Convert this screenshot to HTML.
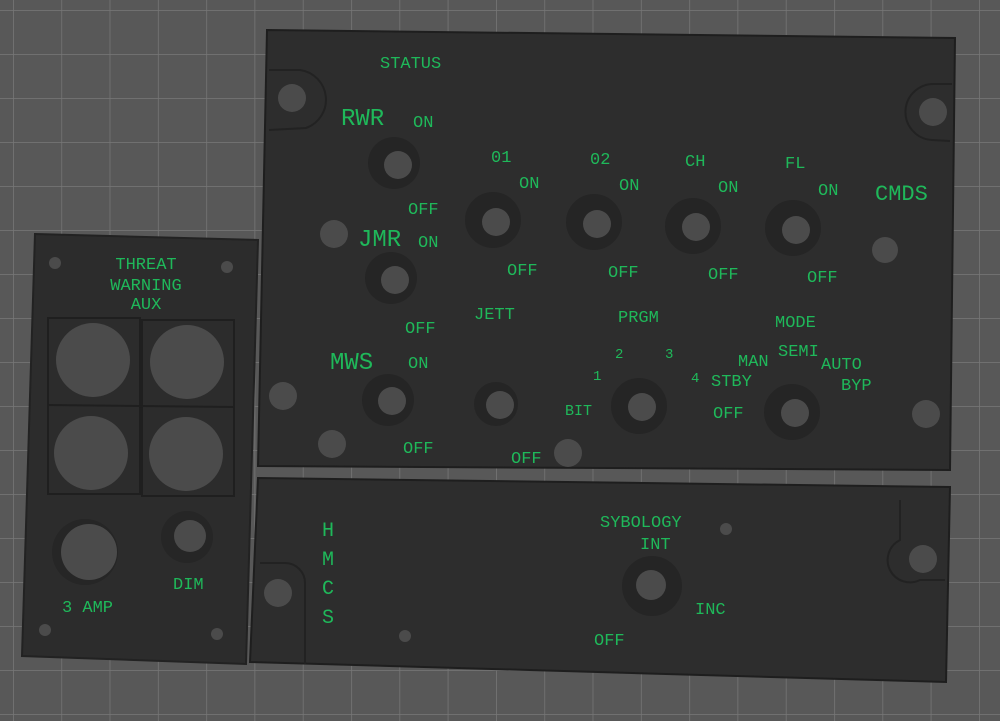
<!DOCTYPE html>
<html><head><style>
html,body{margin:0;padding:0;background:#595959;}
svg{display:block}
text{font-family:"Liberation Mono","DejaVu Sans Mono",monospace;fill:#1fb85a;}
</style></head><body>
<svg width="1000" height="721" viewBox="0 0 1000 721" xmlns="http://www.w3.org/2000/svg">
<defs>
<pattern id="g" width="48.3" height="44" patternUnits="userSpaceOnUse" x="13" y="10">
<rect width="48.3" height="44" fill="#585858"/>
<path d="M0 0V44M0 0H48.3" stroke="#777" stroke-width="1.5"/>
</pattern>
</defs>
<rect width="1000" height="721" fill="url(#g)"/>

<!-- left panel -->
<polygon points="35,234 258,240 246,664 22,656" fill="#2c2c2c" stroke="#222" stroke-width="2"/>
<rect x="48" y="318" width="92" height="176" fill="none" stroke="#1f1f1f" stroke-width="2"/>
<rect x="142" y="320" width="92" height="176" fill="none" stroke="#1f1f1f" stroke-width="2"/>
<line x1="48" y1="405" x2="234" y2="407" stroke="#1f1f1f" stroke-width="2"/>
<g fill="#4b4b4b">
<circle cx="93" cy="360" r="37"/><circle cx="187" cy="362" r="37"/>
<circle cx="91" cy="453" r="37"/><circle cx="186" cy="454" r="37"/>
<circle cx="55" cy="263" r="6"/><circle cx="227" cy="267" r="6"/>
<circle cx="45" cy="630" r="6"/><circle cx="217" cy="634" r="6"/>
</g>
<circle cx="85" cy="552" r="33" fill="#262626"/><circle cx="89" cy="552" r="28" fill="#4b4b4b"/>
<circle cx="187" cy="537" r="26" fill="#262626"/><circle cx="190" cy="536" r="16" fill="#4b4b4b"/>
<text x="146" y="269" font-size="17" text-anchor="middle">THREAT</text>
<text x="146" y="290" font-size="17" text-anchor="middle">WARNING</text>
<text x="146" y="309" font-size="17" text-anchor="middle">AUX</text>
<text x="62" y="612" font-size="17">3 AMP</text>
<text x="173" y="589" font-size="17">DIM</text>

<!-- main panel -->
<polygon points="267,30 955,38 950,470 258,466" fill="#2d2d2d" stroke="#1e1e1e" stroke-width="2"/>
<path d="M269,70 H300 A30 30 0 0 1 306,128 L269,130" fill="none" stroke="#222" stroke-width="2"/>
<path d="M952,84 H935 A28 28 0 0 0 932,140 L950,141" fill="none" stroke="#222" stroke-width="2"/>

<!-- HMCS panel -->
<polygon points="258,478 950,487 946,682 250,662" fill="#2d2d2d" stroke="#1e1e1e" stroke-width="2"/>
<path d="M260,563 H285 A20 20 0 0 1 305,583 V664" fill="none" stroke="#222" stroke-width="2"/>
<path d="M900,500 V540 A20 20 0 0 0 920,580 H945" fill="none" stroke="#222" stroke-width="2"/>

<g fill="#4b4b4b">
<circle cx="292" cy="98" r="14"/><circle cx="933" cy="112" r="14"/>
<circle cx="334" cy="234" r="14"/><circle cx="885" cy="250" r="13"/>
<circle cx="283" cy="396" r="14"/><circle cx="926" cy="414" r="14"/>
<circle cx="332" cy="444" r="14"/><circle cx="568" cy="453" r="14"/>
<circle cx="278" cy="593" r="14"/><circle cx="923" cy="559" r="14"/>
<circle cx="405" cy="636" r="6"/><circle cx="726" cy="529" r="6"/>
</g>
<g fill="#252525">
<circle cx="394" cy="163" r="26"/><circle cx="391" cy="278" r="26"/><circle cx="388" cy="400" r="26"/>
<circle cx="493" cy="220" r="28"/><circle cx="594" cy="222" r="28"/><circle cx="693" cy="226" r="28"/><circle cx="793" cy="228" r="28"/>
<circle cx="496" cy="404" r="22"/><circle cx="639" cy="406" r="28"/><circle cx="792" cy="412" r="28"/>
<circle cx="652" cy="586" r="30"/>
</g>
<g fill="#4b4b4b">
<circle cx="398" cy="165" r="14"/><circle cx="395" cy="280" r="14"/><circle cx="392" cy="401" r="14"/>
<circle cx="496" cy="222" r="14"/><circle cx="597" cy="224" r="14"/><circle cx="696" cy="227" r="14"/><circle cx="796" cy="230" r="14"/>
<circle cx="500" cy="405" r="14"/><circle cx="642" cy="407" r="14"/><circle cx="795" cy="413" r="14"/>
<circle cx="651" cy="585" r="15"/>
</g>
<g font-size="17">
<text x="380" y="68">STATUS</text>
<text x="341" y="125" font-size="24">RWR</text><text x="413" y="127">ON</text>
<text x="408" y="214">OFF</text>
<text x="358" y="246" font-size="24">JMR</text><text x="418" y="247">ON</text>
<text x="405" y="333">OFF</text>
<text x="330" y="369" font-size="24">MWS</text><text x="408" y="368">ON</text>
<text x="403" y="453">OFF</text>
<text x="491" y="162">01</text><text x="519" y="188">ON</text><text x="507" y="275">OFF</text>
<text x="590" y="164">02</text><text x="619" y="190">ON</text><text x="608" y="277">OFF</text>
<text x="685" y="166">CH</text><text x="718" y="192">ON</text><text x="708" y="279">OFF</text>
<text x="785" y="168">FL</text><text x="818" y="195">ON</text><text x="807" y="282">OFF</text>
<text x="875" y="200" font-size="22">CMDS</text>
<text x="474" y="319">JETT</text>
<text x="618" y="322">PRGM</text>
<text x="775" y="327">MODE</text>
<text x="615" y="358" font-size="14">2</text><text x="665" y="358" font-size="14">3</text>
<text x="593" y="380" font-size="14">1</text><text x="691" y="382" font-size="14">4</text>
<text x="711" y="386">STBY</text>
<text x="738" y="366">MAN</text><text x="778" y="356">SEMI</text>
<text x="821" y="369">AUTO</text><text x="841" y="390">BYP</text>
<text x="565" y="415" font-size="15">BIT</text>
<text x="713" y="418">OFF</text>
<text x="511" y="463">OFF</text>
</g>
<g font-size="20">
<text x="322" y="536">H</text><text x="322" y="565">M</text><text x="322" y="594">C</text><text x="322" y="623">S</text>
</g>
<g font-size="17">
<text x="600" y="527">SYBOLOGY</text>
<text x="640" y="549">INT</text>
<text x="695" y="614">INC</text>
<text x="594" y="645">OFF</text>
</g>
</svg>
</body></html>
